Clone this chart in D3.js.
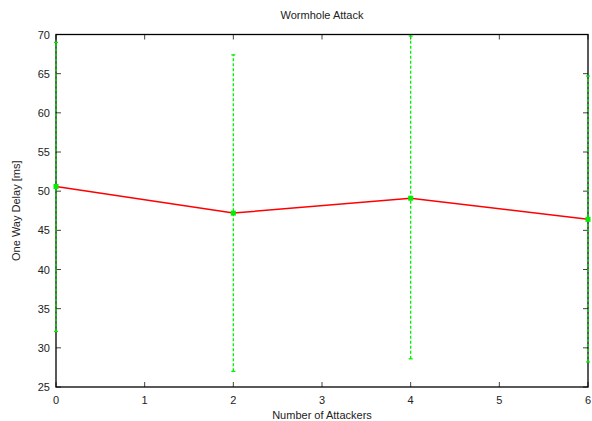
<!DOCTYPE html>
<html><head><meta charset="utf-8">
<script src="https://cdn.jsdelivr.net/npm/d3@7"></script>
<style>body{margin:0;background:#fff}svg{display:block}text{font-family:"Liberation Sans",Arial,sans-serif;fill:#222}</style>
</head><body>
<script>
const attackers = [0, 2, 4, 6];
const meanDelay = [50.6, 47.2, 49.1, 46.4];
const lowDelay = [32.1, 27.0, 28.6, 28.2];
const highDelay = [69.0, 67.4, 69.8, 64.7];
const xTicks = [0, 1, 2, 3, 4, 5, 6];
const yTicks = [25, 30, 35, 40, 45, 50, 55, 60, 65, 70];

const W = 592, H = 421;
const m = {l: 56, r: 4, t: 34.5, b: 34};
const svg = d3.select("body").append("svg").attr("width", W).attr("height", H);
const x = d3.scaleLinear().domain([0, 6]).range([m.l, W - m.r]);
const y = d3.scaleLinear().domain([25, 70]).range([H - m.b, m.t]);

// ticks (inside, on all sides)
const tk = 5;
const g = svg.append("g").attr("stroke", "#444").attr("stroke-width", 1);
yTicks.forEach(v => {
  g.append("line").attr("x1", x(0)).attr("x2", x(0) + tk).attr("y1", y(v)).attr("y2", y(v));
  g.append("line").attr("x1", x(6)).attr("x2", x(6) - tk).attr("y1", y(v)).attr("y2", y(v));
});
xTicks.forEach(v => {
  g.append("line").attr("x1", x(v)).attr("x2", x(v)).attr("y1", y(25)).attr("y2", y(25) - tk);
  g.append("line").attr("x1", x(v)).attr("x2", x(v)).attr("y1", y(70)).attr("y2", y(70) + tk);
});
svg.selectAll(".yl").data(yTicks).enter().append("text")
  .attr("x", x(0) - 6).attr("y", d => y(d) + 4).attr("text-anchor", "end").attr("font-size", 11).text(d => d);
svg.selectAll(".xl").data(xTicks).enter().append("text")
  .attr("x", d => x(d)).attr("y", y(25) + 17).attr("text-anchor", "middle").attr("font-size", 11).text(d => d);

// frame
svg.append("rect").attr("x", x(0)).attr("y", y(70)).attr("width", x(6) - x(0)).attr("height", y(25) - y(70))
  .attr("fill", "none").attr("stroke", "#000").attr("stroke-width", 1.3);

// error bars
const eb = svg.append("g").attr("stroke", "#00ee00").attr("stroke-width", 1.3);
attackers.forEach((a, i) => {
  eb.append("line").attr("x1", x(a)).attr("x2", x(a)).attr("y1", y(lowDelay[i])).attr("y2", y(highDelay[i]))
    .attr("stroke-dasharray", "3,2");
  [lowDelay[i], highDelay[i]].forEach(v => {
    eb.append("line").attr("x1", x(a) - 2).attr("x2", x(a) + 2).attr("y1", y(v)).attr("y2", y(v));
  });
});

// line
svg.append("path").datum(attackers.map((a, i) => [a, meanDelay[i]]))
  .attr("fill", "none").attr("stroke", "#ff0000").attr("stroke-width", 1.5)
  .attr("d", d3.line().x(d => x(d[0])).y(d => y(d[1])));

// markers
attackers.forEach((a, i) => {
  svg.append("rect").attr("x", x(a) - 2.5).attr("y", y(meanDelay[i]) - 2.5).attr("width", 5).attr("height", 5)
    .attr("fill", "#00ee00");
});

svg.append("text").attr("x", 322).attr("y", 19).attr("text-anchor", "middle").attr("font-size", 11).text("Wormhole Attack");
svg.append("text").attr("x", 322).attr("y", 419).attr("text-anchor", "middle").attr("font-size", 11).text("Number of Attackers");
svg.append("text").attr("transform", `translate(20,${(y(25) + y(70)) / 2}) rotate(-90)`)
  .attr("text-anchor", "middle").attr("font-size", 11).text("One Way Delay [ms]");
</script>
</body></html>
